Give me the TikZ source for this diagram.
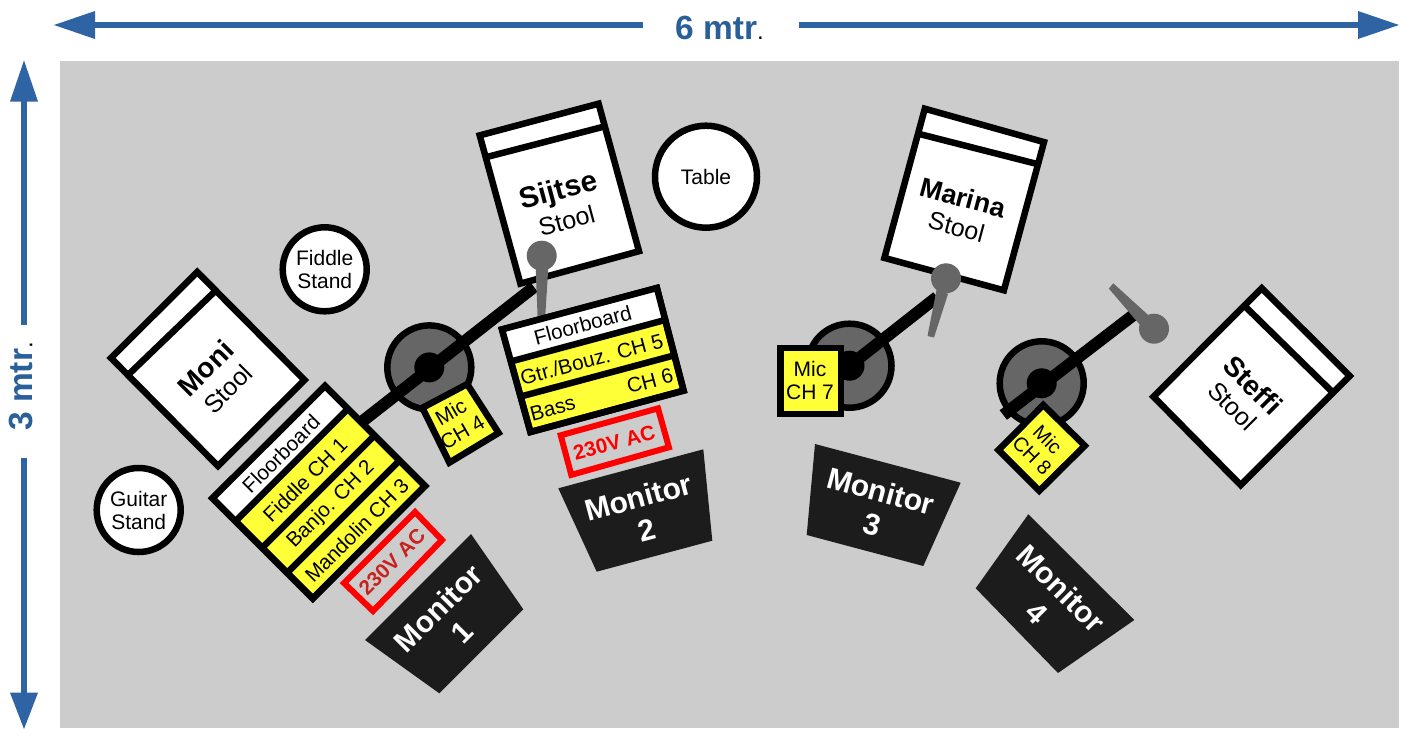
\documentclass[tikz,border=0pt]{standalone}
\usepackage{fontspec}
\setmainfont{Liberation Sans}
\definecolor{bgrey}{HTML}{CCCCCC}
\definecolor{dimblue}{HTML}{2F64A4}
\definecolor{dimtext}{HTML}{2A6099}
\definecolor{micgrey}{HTML}{666666}
\definecolor{micyellow}{HTML}{FFFF38}
\definecolor{monblack}{HTML}{1C1C1C}
\definecolor{acred}{HTML}{C9211E}
\tikzset{
  dimline/.style={draw=dimblue,line width=6pt},
  dimhead/.style={fill=dimblue,draw=none},
  dimlabel/.style={font=\fontsize{33.5}{36}\selectfont,text=dimtext,inner sep=0pt},
  boxw/.style={draw=black,line width=6.5pt,fill=white,line join=miter},
  boxy/.style={draw=black,line width=6.5pt,fill=micyellow,line join=miter},
  divider/.style={draw=black,line width=6.5pt},
  acbox/.style={draw=red,line width=6pt,line join=miter},
  lab/.style={font=\fontsize{20.7}{23}\selectfont,inner sep=0pt,align=center,text=black},
  namelab/.style={font=\bfseries\fontsize{28}{32}\selectfont,inner sep=0pt,text=black},
  stoollab/.style={font=\fontsize{25}{28}\selectfont,inner sep=0pt,text=black},
  roundthing/.style={circle,draw=black,line width=6.5pt,fill=white,inner sep=0pt,align=center,font=\fontsize{21}{23}\selectfont},
  micbase/.style={circle,draw=black,line width=6.5pt,fill=micgrey,inner sep=0pt,minimum size=84pt},
  hub/.style={circle,fill=black,inner sep=0pt,minimum size=30pt},
  boom/.style={draw=black,line width=12pt},
  headball/.style={circle,fill=micgrey,inner sep=0pt,minimum size=30pt},
  stem/.style={fill=micgrey,draw=none},
  monbody/.style={fill=monblack,draw=none},
  monlab/.style={font=\bfseries\fontsize{30}{34}\selectfont,text=white,inner sep=0pt,align=center},
  aclab/.style={font=\bfseries\fontsize{20.7}{23}\selectfont,inner sep=0pt},
}
\begin{document}
\begin{tikzpicture}[x=1pt,y=-1pt]
\useasboundingbox (0,0) rectangle (1405,728);
\fill[white] (0,0) rectangle (1405,728);
\fill[bgrey] (60,61) rectangle (1399,728);

% dimension arrows
\coordinate (hl) at (90,25); \coordinate (hlm) at (643,25);
\coordinate (hrm) at (799,25); \coordinate (hr) at (1362,25);
\draw[dimline] (hl) -- (hlm);
\draw[dimline] (hrm) -- (hr);
\fill[dimhead] (54,25) -- (95,11) -- (95,39) -- cycle;
\fill[dimhead] (1399,25) -- (1358,11) -- (1358,39) -- cycle;
\node[dimlabel,anchor=base west] (widthlab) at (675,39) {\bfseries 6 mtr\mdseries\textcolor{black}{\fontsize{24}{26}\selectfont .}};
\coordinate (vt) at (24,96); \coordinate (vtm) at (24,325);
\coordinate (vbm) at (24,458); \coordinate (vb) at (24,698);
\draw[dimline] (vt) -- (vtm);
\draw[dimline] (vbm) -- (vb);
\fill[dimhead] (24,60.5) -- (10,101.5) -- (38,101.5) -- cycle;
\fill[dimhead] (24,729) -- (10,692.7) -- (38,692.7) -- cycle;
\node[dimlabel,rotate=90,anchor=base west] (heightlab) at (32.3,431) {\bfseries 3 mtr\mdseries\textcolor{black}{\fontsize{24}{26}\selectfont .}};

% round furniture
\node[roundthing,minimum size=84pt] (guitar) at (138.7,510) {Guitar\\Stand};
\node[roundthing,minimum size=84pt] (fiddle) at (324.7,269.3) {Fiddle\\Stand};
\node[roundthing,minimum size=102pt] (table) at (706,176.7) {Table};

% Moni stool
\draw[boxw] (197.3,272) -- (304.5,380) -- (218,466) -- (111,358) -- cycle;
\draw[divider] (215.5,290.8) -- (128.2,374.8);
\node[namelab,rotate=45] (moni) at (205.5,368) {Moni};
\node[stoollab,rotate=45] (moniS) at (228,389) {Stool};

% Sijtse stool
\draw[boxw] (479.7,135.4) -- (598.6,103.7) -- (639,251.2) -- (520.4,283.6) -- cycle;
\draw[divider] (487.2,156.9) -- (605.5,126.2);
\node[namelab,rotate=15,font=\bfseries\fontsize{29.5}{32}\selectfont] (sijtse) at (559,192) {Sijtse};
\node[stoollab,rotate=15] (sijtseS) at (566.7,220.7) {Stool};

% Marina stool
\draw[boxw] (924.8,108.7) -- (1044,142.1) -- (1003.9,290.3) -- (884.4,257.9) -- cycle;
\draw[divider] (917.8,133.6) -- (1039.5,164.6);
\node[namelab,rotate=-15,font=\bfseries\fontsize{27}{32}\selectfont] (marina) at (963,197.5) {Marina};
\node[stoollab,rotate=-15] (marinaS) at (956.5,226.7) {Stool};

% Steffi stool
\draw[boxw] (1261.7,288.2) -- (1349.8,376) -- (1240.7,485.1) -- (1153.5,396.7) -- cycle;
\draw[divider] (1245.2,306.5) -- (1331.8,391.5);
\node[namelab,rotate=-45] (steffi) at (1253,385) {Steffi};
\node[stoollab,rotate=-45] (steffiS) at (1232.5,406) {Stool};

% microphone stands
\node[micbase] (base4) at (429.3,367.4) {};
\node[micbase] (base7) at (849.5,365.7) {};
\node[micbase] (base8) at (1041.7,383.3) {};
\coordinate (boom4a) at (350,431); \coordinate (boom4b) at (534,287);
\coordinate (boom7b) at (937,297);
\coordinate (boom8a) at (1003.3,415); \coordinate (boom8b) at (1136,313);
\draw[boom] (boom4a) -- (boom4b);
\draw[boom] (base7.center) -- (boom7b);
\draw[boom] (boom8a) -- (boom8b);
\node[hub] (hub4) at (base4.center) {};
\node[hub] (hub7) at (base7.center) {};
\node[hub] (hub8) at (base8.center) {};
\fill[stem] (535.7,268) -- (548.3,268) -- (545,320) -- (537.7,320) -- cycle;
\node[headball] (head4) at (541.7,255.7) {};
\fill[stem] (936.7,289) -- (948,294) -- (934,337.5) -- (927.5,336) -- cycle;
\node[headball] (head7) at (946,278.3) {};
\fill[stem] (1113.3,283.3) -- (1108.8,288.5) -- (1140,325) -- (1150,316.7) -- cycle;
\node[headball] (head8) at (1154,328.7) {};

% floorboard 1
\draw[boxy] (325,386) -- (425,486) -- (312.7,598.5) -- (212.5,498.3) -- cycle;
\fill[white] (325,386) -- (346.7,410) -- (236.7,520) -- (212.5,498.3) -- cycle;
\draw[black,line width=6.5pt,line join=miter] (325,386) -- (425,486) -- (312.7,598.5) -- (212.5,498.3) -- cycle;
\draw[divider] (346.7,410) -- (236.7,520);
\draw[divider] (373.3,436.7) -- (263.3,546.7);
\draw[divider] (398.3,461.7) -- (288.3,571.7);
\node[lab,rotate=45] (fb1) at (281,454) {Floorboard};
\node[lab,rotate=45] (ch1) at (305,480) {Fiddle CH 1};
\node[lab,rotate=45] (ch2) at (331,505) {Banjo. CH 2};
\node[lab,rotate=45] (ch3) at (356.7,530) {Mandolin CH 3};

% floorboard 2
\draw[boxy] (502,329.4) -- (656.9,288) -- (683.6,390.6) -- (530.4,432) -- cycle;
\fill[white] (502,329.4) -- (656.9,288) -- (665,320) -- (510,361.7) -- cycle;
\draw[black,line width=6.5pt,line join=miter] (502,329.4) -- (656.9,288) -- (683.6,390.6) -- (530.4,432) -- cycle;
\draw[divider] (510,361.7) -- (665,320);
\draw[divider] (520,396.7) -- (674.4,355.3);
\node[lab,rotate=15] (fb2) at (582.7,325) {Floorboard};
\node[lab,rotate=15] (ch5) at (591.7,359.3) {Gtr./Bouz. CH 5};
\node[lab,rotate=15] (bass) at (552.7,408.3) {Bass};
\node[lab,rotate=15] (ch6) at (650,381) {CH 6};

% mic boxes
\draw[boxy] (422.4,407.8) -- (467.2,384.1) -- (498.6,432.9) -- (449.4,462.6) -- cycle;
\node[lab,rotate=30] (mic4) at (456.5,422) {Mic\\CH 4};
\draw[boxy] (780.5,348) rectangle (841,414);
\node[lab,font=\fontsize{21}{23}\selectfont] (mic7) at (810,380) {Mic\\CH 7};
\draw[boxy] (1043.3,405) -- (1084.8,445.7) -- (1039.3,490.8) -- (998.5,450) -- cycle;
\node[lab,rotate=-45,font=\fontsize{20}{22}\selectfont] (mic8) at (1040,447.5) {Mic\\CH 8};

% mains
\draw[acbox] (415,512) -- (442,540) -- (373,611) -- (344,583) -- cycle;
\node[aclab,text=acred,rotate=45] (ac1) at (392,561.7) {230V AC};
\draw[acbox] (560.7,435.3) -- (658,408.4) -- (668.9,447.3) -- (571.3,474.9) -- cycle;
\node[aclab,text=red,rotate=15] (ac2) at (614.3,442.3) {230V AC};

% monitors
\fill[monbody] (471,534) -- (523.3,609.3) -- (439.3,693.3) -- (365,640) -- cycle;
\node[monlab,rotate=45] (mon1) at (450,620) {Monitor\\1};
\fill[monbody] (558.3,488.3) -- (703.3,449.3) -- (712.3,540.7) -- (596.7,571.7) -- cycle;
\node[monlab,rotate=15] (mon2) at (642.7,513.5) {Monitor\\2};
\fill[monbody] (815,444) -- (960.7,482.7) -- (923.3,566) -- (806.7,535) -- cycle;
\node[monlab,rotate=-15] (mon3) at (876.5,507.5) {Monitor\\3};
\fill[monbody] (1028.3,514.3) -- (1134.3,620) -- (1058,673) -- (975.7,588.3) -- cycle;
\node[monlab,rotate=-45] (mon4) at (1049.5,600.5) {Monitor\\4};
\end{tikzpicture}
\end{document}
